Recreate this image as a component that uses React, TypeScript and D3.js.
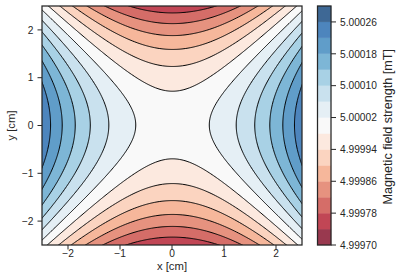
import React from "react";
import * as d3 from "d3";

// ---- data ----
const B0 = 5.0; // mT, field at centre
const gradient2 = 4e-5; // mT / cm^2, quadrupole coefficient: B = B0 + g (x^2 - y^2)
const levels = [
  4.9997, 4.99974, 4.99978, 4.99982, 4.99986, 4.9999, 4.99994, 4.99998,
  5.00002, 5.00006, 5.0001, 5.00014, 5.00018, 5.00022, 5.00026, 5.0003,
];
const cbarTicks = [4.9997, 4.99978, 4.99986, 4.99994, 5.00002, 5.0001, 5.00018, 5.00026];
const xTicks = [-2, -1, 0, 1, 2];
const yTicks = [-2, -1, 0, 1, 2];
const xDomain = [-2.5, 2.5];
const yDomain = [-2.5, 2.5];
const rdbu = [
  "#67001f", "#b2182b", "#d6604d", "#f4a582", "#fddbc7", "#f7f7f7",
  "#d1e5f0", "#92c5de", "#4393c3", "#2166ac", "#053061",
];

// ---- layout ----
const W = 398, H = 279;
const plot = { left: 42, right: 302, top: 6, bottom: 245 };
const cbar = { left: 317.5, right: 331, top: 6, bottom: 245 };
const FONT = "'Liberation Sans', Arial, 'DejaVu Sans', sans-serif";
const TXT = "#262626";
const ALPHA = 0.8;
const TICK_FS = 10.2;
const LABEL_FS = 11.3;
const CBAR_LABEL_FS = 12.6;

const cmap = d3.piecewise(d3.interpolateRgb, rdbu);
function bandColor(k: number): string {
  const c = d3.rgb(cmap((k + 0.5) / (levels.length - 1)));
  const r = Math.round(c.r * ALPHA + 255 * (1 - ALPHA));
  const g = Math.round(c.g * ALPHA + 255 * (1 - ALPHA));
  const b = Math.round(c.b * ALPHA + 255 * (1 - ALPHA));
  return d3.rgb(r, g, b).formatHex();
}

const fmtMinus = (v: number) => (v < 0 ? "\u2212" + Math.abs(v) : String(v));

export default function App() {
  const sx = d3.scaleLinear().domain(xDomain).range([plot.left, plot.right]);
  const sy = d3.scaleLinear().domain(yDomain).range([plot.bottom, plot.top]);
  const sc = d3.scaleLinear().domain([levels[0], levels[levels.length - 1]]).range([cbar.bottom, cbar.top]);

  // grid over a slightly extended domain
  const ext = 0.1;
  const n = 261;
  const gx0 = xDomain[0] - ext, gx1 = xDomain[1] + ext;
  const gy0 = yDomain[0] - ext, gy1 = yDomain[1] + ext;
  const stepX = (gx1 - gx0) / (n - 1);
  const stepY = (gy1 - gy0) / (n - 1);
  const values: number[] = new Array(n * n);
  for (let j = 0; j < n; j++) {
    const y = gy0 + j * stepY;
    for (let i = 0; i < n; i++) {
      const x = gx0 + i * stepX;
      values[j * n + i] = B0 + gradient2 * (x * x - y * y);
    }
  }
  const contours = d3.contours().size([n, n]).thresholds(levels)(values);
  const transform = d3.geoTransform({
    point(x: number, y: number) {
      (this as any).stream.point(sx(gx0 + x * stepX), sy(gy0 + y * stepY));
    },
  });
  const path = d3.geoPath(transform);

  return (
    <svg width={W} height={H} style={{ position: "absolute", left: 0, top: 0, background: "white" }}>
      <defs>
        <clipPath id="plotclip">
          <rect x={plot.left} y={plot.top} width={plot.right - plot.left} height={plot.bottom - plot.top} />
        </clipPath>
      </defs>
      <g clipPath="url(#plotclip)">
        <rect x={plot.left} y={plot.top} width={plot.right - plot.left} height={plot.bottom - plot.top} fill={bandColor(0)} />
        {contours.slice(0, levels.length - 1).map((c, k) => (
          <path key={"f" + k} d={path(c as any) || ""} fill={bandColor(k)} stroke={bandColor(k)} strokeWidth={0.3} />
        ))}
        {contours.map((c, k) => (
          <path key={"l" + k} d={path(c as any) || ""} fill="none" stroke="#000" strokeWidth={1} />
        ))}
      </g>
      <rect x={plot.left} y={plot.top} width={plot.right - plot.left} height={plot.bottom - plot.top} fill="none" stroke={TXT} strokeWidth={1.25} />
      {/* x ticks */}
      {xTicks.map((t) => (
        <g key={"xt" + t}>
          <line x1={sx(t)} x2={sx(t)} y1={plot.bottom} y2={plot.bottom + 4.5} stroke={TXT} strokeWidth={1} />
          <text x={sx(t)} y={plot.bottom + 12.2} textAnchor="middle" fontFamily={FONT} fontSize={TICK_FS} fill={TXT}>{fmtMinus(t)}</text>
        </g>
      ))}
      {yTicks.map((t) => (
        <g key={"yt" + t}>
          <line x1={plot.left - 4.5} x2={plot.left} y1={sy(t)} y2={sy(t)} stroke={TXT} strokeWidth={1} />
          <text x={plot.left - 8.5} y={sy(t) + 3.7} textAnchor="end" fontFamily={FONT} fontSize={TICK_FS} fill={TXT}>{fmtMinus(t)}</text>
        </g>
      ))}
      <text x={(plot.left + plot.right) / 2} y={269.8} textAnchor="middle" fontFamily={FONT} fontSize={LABEL_FS} fill={TXT}>x [cm]</text>
      <text transform={`translate(15.3,${(plot.top + plot.bottom) / 2}) rotate(-90)`} textAnchor="middle" fontFamily={FONT} fontSize={LABEL_FS} fill={TXT}>y [cm]</text>
      {/* colorbar */}
      {levels.slice(0, -1).map((v, k) => (
        <rect key={"cb" + k} x={cbar.left} width={cbar.right - cbar.left} y={sc(levels[k + 1])} height={sc(v) - sc(levels[k + 1])} fill={bandColor(k)} stroke={bandColor(k)} strokeWidth={0.3} />
      ))}
      <rect x={cbar.left} y={cbar.top} width={cbar.right - cbar.left} height={cbar.bottom - cbar.top} fill="none" stroke={TXT} strokeWidth={1.25} />
      {cbarTicks.map((t) => (
        <g key={"ct" + t}>
          <line x1={cbar.right} x2={cbar.right + 5} y1={sc(t)} y2={sc(t)} stroke={TXT} strokeWidth={1} />
          <text x={cbar.right + 9} y={sc(t) + 3.7} textAnchor="start" fontFamily={FONT} fontSize={TICK_FS} fill={TXT}>{t.toFixed(5)}</text>
        </g>
      ))}
      <text transform={`translate(392.2,126.7) rotate(-90)`} textAnchor="middle" fontFamily={FONT} fontSize={CBAR_LABEL_FS} fill={TXT}>Magnetic field strength [mT]</text>
    </svg>
  );
}
